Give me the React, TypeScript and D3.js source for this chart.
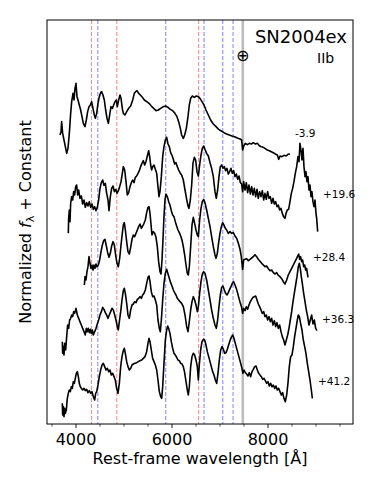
import React from "react";
import * as d3 from "d3";

// spectra of SN2004ex, [rest wavelength (A), normalized flux + constant]
const specM3_9: [number, number][] = [
  [3667, 8.95], [3688, 9.05], [3701, 9.35], [3722, 9.0], [3750, 8.8], [3778, 8.6], [3806, 8.4], [3833, 8.55],
  [3861, 9.0], [3889, 9.6], [3910, 9.95], [3938, 10.2], [3958, 10.0], [3979, 10.35], [4000, 10.5], [4021, 10.1],
  [4042, 10.0], [4069, 9.85], [4097, 9.7], [4125, 9.5], [4153, 9.3], [4188, 9.2], [4215, 9.4], [4243, 9.65],
  [4271, 9.8], [4299, 9.85], [4326, 9.95], [4354, 9.75], [4382, 9.55], [4403, 9.45], [4431, 9.6], [4458, 9.9],
  [4486, 10.1], [4514, 10.22], [4535, 10.25], [4562, 10.15], [4590, 10.0], [4618, 9.7], [4646, 9.45], [4674, 9.3],
  [4701, 9.55], [4729, 9.8], [4757, 9.75], [4785, 9.85], [4812, 9.95], [4840, 10.0], [4861, 9.8], [4889, 10.0],
  [4917, 10.15], [4938, 10.05], [4965, 9.75], [4986, 9.6], [5021, 9.55], [5056, 9.65], [5097, 9.75], [5139, 9.82],
  [5181, 10.0], [5215, 10.2], [5243, 10.25], [5271, 10.28], [5306, 10.2], [5340, 10.15], [5382, 10.08], [5424, 10.0],
  [5472, 9.95], [5521, 9.9], [5569, 9.82], [5618, 9.75], [5667, 9.68], [5715, 9.7], [5764, 9.75], [5819, 9.8],
  [5868, 9.82], [5917, 9.78], [5965, 9.72], [6014, 9.68], [6062, 9.6], [6104, 9.5], [6139, 9.35], [6174, 9.15],
  [6201, 8.95], [6236, 8.85], [6264, 8.95], [6299, 9.15], [6333, 9.5], [6361, 9.85], [6389, 10.05], [6424, 10.12],
  [6465, 10.08], [6507, 10.12], [6549, 10.1], [6583, 10.05], [6625, 9.95], [6667, 9.85], [6708, 9.7], [6757, 9.55],
  [6805, 9.4], [6861, 9.28], [6917, 9.2], [6972, 9.12], [7028, 9.07], [7083, 9.02], [7139, 8.98], [7194, 8.95],
  [7250, 8.92], [7305, 8.9], [7361, 8.86], [7417, 8.83], [7451, 8.8], [7472, 8.5], [7493, 8.62], [7528, 8.7],
  [7569, 8.66], [7611, 8.7], [7653, 8.68], [7694, 8.72], [7736, 8.68], [7778, 8.7], [7819, 8.63], [7861, 8.6],
  [7903, 8.58], [7944, 8.54], [7986, 8.5], [8028, 8.48], [8069, 8.45], [8111, 8.42], [8153, 8.38], [8194, 8.35],
  [8222, 8.22], [8250, 8.32], [8291, 8.3], [8333, 8.34], [8375, 8.32], [8416, 8.37], [8458, 8.38],
];

const specP19_6: [number, number][] = [
  [3840, 6.0], [3847, 6.45], [3861, 6.7], [3875, 6.35], [3889, 6.9], [3910, 7.1], [3931, 7.0], [3951, 7.25],
  [3972, 7.15], [3993, 7.4], [4014, 7.45], [4035, 7.15], [4056, 7.3], [4083, 7.05], [4111, 7.12], [4139, 6.88],
  [4167, 7.0], [4194, 6.78], [4222, 6.92], [4250, 6.82], [4278, 6.95], [4306, 6.78], [4333, 6.88], [4361, 6.72],
  [4389, 6.8], [4417, 6.68], [4444, 6.78], [4472, 7.0], [4500, 7.35], [4528, 7.52], [4556, 7.6], [4583, 7.44],
  [4611, 7.5], [4639, 7.2], [4667, 7.0], [4688, 6.68], [4715, 7.1], [4743, 7.35], [4771, 7.42], [4799, 7.25],
  [4826, 7.32], [4854, 7.2], [4882, 7.28], [4910, 7.4], [4938, 7.55], [4965, 7.8], [4986, 8.0], [5014, 7.9],
  [5042, 7.55], [5069, 7.15], [5097, 7.22], [5125, 7.4], [5153, 7.52], [5181, 7.6], [5208, 7.52], [5236, 7.68],
  [5264, 7.72], [5292, 7.8], [5319, 7.88], [5347, 8.0], [5375, 8.1], [5403, 8.18], [5431, 8.05], [5458, 8.15],
  [5486, 8.32], [5514, 8.48], [5535, 8.3], [5556, 8.05], [5576, 7.9], [5597, 8.0], [5625, 8.05], [5653, 7.92],
  [5681, 7.8], [5708, 7.4], [5729, 7.1], [5750, 7.25], [5778, 7.7], [5806, 8.3], [5833, 8.6], [5861, 8.8],
  [5889, 8.88], [5917, 8.68], [5944, 8.6], [5972, 8.42], [6000, 8.34], [6028, 8.22], [6055, 8.08], [6083, 8.12],
  [6111, 8.0], [6139, 7.9], [6167, 7.82], [6201, 7.75], [6236, 7.6], [6271, 7.3], [6306, 7.02], [6333, 6.82],
  [6354, 6.75], [6382, 7.0], [6410, 7.45], [6437, 8.1], [6465, 8.28], [6493, 8.2], [6521, 7.85], [6549, 7.72],
  [6576, 8.05], [6604, 8.35], [6632, 8.55], [6660, 8.62], [6687, 8.52], [6722, 8.4], [6757, 8.32], [6792, 8.12],
  [6826, 7.95], [6861, 7.7], [6896, 7.25], [6923, 7.05], [6951, 7.3], [6979, 7.7], [7007, 8.0], [7035, 8.05],
  [7062, 7.95], [7090, 8.0], [7118, 7.88], [7146, 7.95], [7173, 7.78], [7201, 7.85], [7229, 7.95], [7257, 7.8],
  [7285, 7.88], [7312, 7.7], [7340, 7.78], [7368, 7.62], [7396, 7.72], [7424, 7.52], [7451, 7.48], [7472, 7.25],
  [7493, 7.55], [7521, 7.3], [7549, 7.52], [7576, 7.22], [7604, 7.45], [7632, 7.18], [7660, 7.4], [7687, 7.15],
  [7715, 7.35], [7743, 7.1], [7771, 7.32], [7798, 7.05], [7826, 7.25], [7854, 7.1], [7882, 7.28], [7910, 7.0],
  [7937, 7.2], [7965, 7.02], [7993, 7.25], [8021, 7.05], [8048, 7.1], [8076, 6.9], [8104, 7.05], [8132, 6.88],
  [8160, 6.95], [8187, 6.8], [8215, 6.85], [8243, 6.7], [8271, 6.75], [8298, 6.6], [8326, 6.5], [8354, 6.45],
  [8375, 6.6], [8403, 6.7], [8430, 6.72], [8458, 6.95], [8486, 7.2], [8514, 7.35], [8541, 7.55], [8569, 7.8],
  [8597, 8.0], [8625, 8.3], [8646, 8.15], [8666, 8.7], [8687, 8.5], [8708, 8.2], [8729, 8.55], [8750, 8.0],
  [8771, 7.7], [8791, 7.85], [8812, 7.55], [8833, 7.7], [8854, 7.3], [8875, 7.45], [8896, 7.1], [8916, 7.25],
  [8937, 6.95], [8958, 6.8], [8979, 7.0], [9000, 6.6], [9014, 6.45], [9035, 6.05],
];

const specP28_4: [number, number][] = [
  [4174, 4.45], [4188, 4.7], [4208, 4.6], [4229, 4.85], [4250, 5.0], [4271, 5.3], [4292, 5.1], [4312, 4.95],
  [4333, 5.05], [4354, 4.9], [4375, 5.05], [4396, 4.95], [4417, 5.08], [4437, 5.0], [4465, 5.05], [4493, 5.2],
  [4521, 5.45], [4549, 5.65], [4576, 5.78], [4604, 5.82], [4632, 5.62], [4660, 5.42], [4688, 5.28], [4715, 5.4],
  [4743, 5.62], [4771, 5.75], [4799, 5.65], [4826, 5.35], [4854, 5.1], [4882, 5.0], [4910, 5.25], [4938, 5.65],
  [4965, 6.0], [4986, 6.25], [5007, 6.32], [5028, 6.1], [5056, 5.75], [5083, 5.45], [5111, 5.38], [5139, 5.58],
  [5167, 5.82], [5194, 5.95], [5222, 5.9], [5250, 6.0], [5278, 6.1], [5306, 6.2], [5333, 6.28], [5361, 6.15],
  [5389, 6.22], [5417, 6.3], [5444, 6.4], [5472, 6.62], [5500, 6.78], [5521, 6.8], [5542, 6.6], [5562, 6.28],
  [5583, 5.95], [5611, 6.05], [5639, 6.0], [5667, 5.88], [5694, 5.6], [5722, 5.15], [5750, 4.85], [5771, 4.78],
  [5792, 5.2], [5812, 5.8], [5833, 6.5], [5854, 7.0], [5875, 7.18], [5903, 7.1], [5931, 6.95], [5958, 6.85],
  [5986, 6.68], [6014, 6.55], [6042, 6.5], [6069, 6.35], [6097, 6.22], [6125, 6.1], [6153, 6.02], [6181, 5.92],
  [6208, 5.8], [6236, 5.6], [6264, 5.35], [6292, 5.05], [6319, 4.8], [6340, 4.75], [6361, 5.0], [6389, 5.6],
  [6417, 6.25], [6444, 6.48], [6472, 6.3], [6500, 6.1], [6528, 5.95], [6549, 5.9], [6576, 6.4], [6604, 6.75],
  [6632, 6.95], [6660, 7.02], [6687, 6.92], [6722, 6.7], [6757, 6.45], [6792, 6.2], [6826, 5.9], [6861, 5.6],
  [6896, 5.35], [6917, 5.25], [6944, 5.4], [6972, 5.72], [7000, 6.0], [7028, 6.2], [7055, 6.32], [7083, 6.25],
  [7111, 6.15], [7139, 6.1], [7173, 6.0], [7208, 6.05], [7243, 6.0], [7278, 6.02], [7312, 5.92], [7347, 5.85],
  [7382, 5.7], [7417, 5.52], [7444, 5.3], [7472, 4.92], [7493, 5.2], [7521, 5.22], [7556, 5.24], [7590, 5.18],
  [7625, 5.22], [7660, 5.26], [7694, 5.3], [7729, 5.36], [7764, 5.3], [7798, 5.22], [7833, 5.16], [7868, 5.1],
  [7903, 5.05], [7937, 5.0], [7972, 5.02], [8007, 4.94], [8042, 4.88], [8076, 4.9], [8111, 4.82], [8146, 4.78],
  [8180, 4.82], [8215, 4.74], [8250, 4.7], [8285, 4.64], [8319, 4.55], [8354, 4.48], [8389, 4.6], [8423, 4.75],
  [8458, 4.85], [8493, 4.95], [8528, 5.05], [8562, 5.15], [8597, 5.25], [8618, 5.32], [8639, 5.38], [8660, 5.22],
  [8680, 5.3], [8701, 5.15], [8722, 5.2], [8743, 5.0], [8764, 5.05], [8785, 4.9], [8805, 4.95], [8833, 4.68],
];

const specP36_3: [number, number][] = [
  [3715, 2.75], [3722, 2.4], [3736, 2.6], [3750, 2.35], [3764, 2.7], [3785, 2.5], [3806, 2.9], [3826, 3.25],
  [3847, 3.15], [3868, 3.4], [3889, 3.45], [3910, 3.55], [3931, 3.5], [3951, 3.65], [3972, 3.6], [4000, 3.75],
  [4028, 3.55], [4056, 3.45], [4083, 3.35], [4111, 3.25], [4139, 3.15], [4167, 3.05], [4194, 2.95], [4215, 3.15],
  [4236, 3.05], [4257, 3.15], [4278, 3.02], [4299, 3.12], [4319, 3.0], [4340, 3.1], [4361, 2.95], [4389, 3.05],
  [4417, 3.15], [4444, 3.28], [4472, 3.4], [4500, 3.55], [4528, 3.65], [4556, 3.78], [4583, 3.72], [4611, 3.62],
  [4639, 3.55], [4667, 3.45], [4694, 3.55], [4722, 3.65], [4750, 3.75], [4778, 3.7], [4806, 3.55], [4833, 3.4],
  [4861, 3.2], [4882, 3.1], [4903, 3.35], [4931, 3.65], [4958, 4.0], [4986, 4.28], [5007, 4.35], [5028, 4.2],
  [5056, 3.9], [5083, 3.55], [5111, 3.45], [5139, 3.7], [5167, 3.85], [5194, 3.88], [5222, 3.95], [5250, 3.92],
  [5278, 4.02], [5306, 4.05], [5333, 4.1], [5361, 4.05], [5389, 4.15], [5417, 4.2], [5444, 4.3], [5472, 4.5],
  [5500, 4.68], [5521, 4.72], [5542, 4.55], [5569, 4.25], [5597, 4.1], [5625, 4.12], [5653, 4.0], [5681, 3.85],
  [5708, 3.4], [5736, 3.15], [5757, 3.05], [5778, 3.4], [5806, 4.0], [5833, 4.5], [5861, 4.8], [5889, 4.92],
  [5917, 4.78], [5944, 4.65], [5972, 4.52], [6000, 4.42], [6028, 4.3], [6055, 4.22], [6083, 4.15], [6111, 4.05],
  [6139, 4.0], [6167, 3.95], [6201, 3.9], [6236, 3.8], [6271, 3.55], [6306, 3.2], [6333, 3.05], [6361, 3.35],
  [6389, 3.7], [6417, 3.95], [6444, 4.1], [6472, 4.0], [6500, 3.85], [6528, 3.65], [6549, 3.8], [6576, 4.2],
  [6604, 4.55], [6632, 4.78], [6660, 4.85], [6687, 4.8], [6722, 4.6], [6757, 4.3], [6792, 4.0], [6826, 3.7],
  [6861, 3.45], [6896, 3.25], [6923, 3.15], [6951, 3.4], [6979, 3.8], [7007, 4.15], [7035, 4.38], [7062, 4.42],
  [7090, 4.3], [7118, 4.2], [7146, 4.15], [7173, 4.22], [7201, 4.32], [7229, 4.4], [7257, 4.5], [7285, 4.55],
  [7312, 4.45], [7340, 4.35], [7368, 4.2], [7396, 4.05], [7424, 3.9], [7451, 3.78], [7472, 3.6], [7493, 3.75],
  [7521, 3.68], [7549, 3.8], [7576, 3.72], [7604, 3.85], [7632, 3.95], [7660, 4.02], [7687, 4.08], [7715, 4.1],
  [7743, 4.12], [7771, 4.0], [7798, 3.88], [7826, 3.8], [7854, 3.7], [7882, 3.6], [7910, 3.65], [7937, 3.5],
  [7965, 3.55], [7993, 3.4], [8021, 3.5], [8048, 3.35], [8076, 3.45], [8104, 3.25], [8132, 3.38], [8160, 3.2],
  [8187, 3.32], [8215, 3.15], [8243, 3.25], [8271, 3.05], [8298, 2.9], [8326, 2.8], [8354, 2.65], [8382, 2.8],
  [8410, 2.95], [8437, 3.15], [8465, 3.4], [8493, 3.65], [8521, 3.95], [8548, 4.2], [8576, 4.45], [8604, 4.7],
  [8632, 5.0], [8653, 5.1], [8673, 4.95], [8694, 4.7], [8715, 4.5], [8743, 4.2], [8771, 3.95], [8798, 3.7],
  [8826, 3.5], [8854, 3.25], [8882, 3.4], [8910, 3.55], [8937, 3.28], [8965, 3.4], [8993, 3.15], [9021, 3.08],
];

const specP41_2: [number, number][] = [
  [3715, 0.9], [3722, 0.55], [3736, 0.8], [3750, 0.5], [3764, 0.75], [3778, 0.6], [3799, 0.7], [3819, 1.05],
  [3840, 1.2], [3861, 1.3], [3882, 1.25], [3903, 1.4], [3924, 1.35], [3944, 1.55], [3965, 1.5], [3986, 1.65],
  [4007, 1.8], [4028, 1.85], [4049, 1.7], [4069, 1.5], [4090, 1.4], [4111, 1.35], [4139, 1.3], [4167, 1.35],
  [4194, 1.28], [4222, 1.32], [4250, 1.22], [4278, 1.28], [4306, 1.2], [4333, 1.25], [4361, 1.1], [4389, 1.0],
  [4410, 1.2], [4431, 1.25], [4458, 1.45], [4486, 1.7], [4514, 1.9], [4542, 2.05], [4569, 2.1], [4597, 2.0],
  [4625, 1.9], [4653, 1.95], [4681, 1.85], [4708, 1.9], [4736, 1.75], [4764, 1.8], [4792, 1.7], [4819, 1.6],
  [4847, 1.35], [4875, 1.2], [4903, 1.5], [4931, 2.0], [4958, 2.3], [4986, 2.48], [5007, 2.55], [5028, 2.4],
  [5056, 2.15], [5083, 2.0], [5111, 1.9], [5139, 1.95], [5167, 2.05], [5194, 2.08], [5229, 2.1], [5264, 2.12],
  [5299, 2.15], [5333, 2.18], [5368, 2.2], [5403, 2.25], [5437, 2.3], [5472, 2.45], [5500, 2.7], [5521, 2.85],
  [5542, 2.75], [5569, 2.5], [5597, 2.25], [5625, 2.15], [5653, 2.05], [5681, 1.9], [5708, 1.6], [5736, 1.25],
  [5764, 1.1], [5785, 1.05], [5806, 1.4], [5833, 2.1], [5861, 2.8], [5889, 3.1], [5910, 3.22], [5931, 3.15],
  [5958, 3.0], [5986, 2.75], [6014, 2.55], [6042, 2.4], [6069, 2.35], [6097, 2.28], [6125, 2.2], [6153, 2.18],
  [6181, 2.1], [6208, 2.08], [6236, 2.0], [6264, 1.82], [6292, 1.55], [6319, 1.3], [6340, 1.15], [6361, 1.4],
  [6389, 2.0], [6417, 2.3], [6444, 2.4], [6472, 2.35], [6500, 2.2], [6528, 2.0], [6549, 1.6], [6569, 2.05],
  [6597, 2.5], [6625, 2.75], [6653, 2.82], [6680, 2.8], [6708, 2.65], [6736, 2.45], [6764, 2.3], [6792, 2.15],
  [6819, 2.0], [6847, 1.85], [6875, 1.75], [6903, 1.6], [6931, 1.5], [6958, 1.8], [6986, 2.2], [7014, 2.5],
  [7042, 2.6], [7069, 2.52], [7097, 2.4], [7125, 2.42], [7153, 2.52], [7180, 2.65], [7208, 2.78], [7236, 2.88],
  [7264, 2.95], [7292, 2.85], [7319, 2.7], [7347, 2.55], [7375, 2.4], [7403, 2.25], [7431, 2.1], [7458, 1.95],
  [7479, 1.8], [7500, 1.9], [7528, 1.82], [7556, 1.78], [7583, 1.72], [7611, 1.82], [7639, 1.7], [7667, 1.85],
  [7694, 1.92], [7722, 2.0], [7750, 2.02], [7778, 1.9], [7806, 1.8], [7833, 1.75], [7861, 1.7], [7889, 1.62],
  [7917, 1.65], [7944, 1.58], [7972, 1.5], [8000, 1.55], [8028, 1.42], [8055, 1.5], [8083, 1.4], [8111, 1.45],
  [8139, 1.35], [8166, 1.42], [8194, 1.3], [8222, 1.35], [8250, 1.25], [8278, 1.15], [8305, 1.22], [8333, 1.05],
  [8361, 0.95], [8389, 1.15], [8416, 1.5], [8444, 2.0], [8472, 2.3], [8500, 2.35], [8528, 2.6], [8555, 2.9],
  [8583, 3.15], [8611, 3.4], [8632, 3.55], [8653, 3.5], [8680, 3.3], [8708, 3.1], [8736, 2.8], [8764, 2.6],
  [8791, 2.4], [8819, 2.1], [8847, 1.85], [8875, 1.6], [8903, 1.3], [8924, 1.05],
];

const spectra = [specM3_9, specP19_6, specP28_4, specP36_3, specP41_2];
const epochs = ["-3.9", "+19.6", "+28.4", "+36.3", "+41.2"];
// where each epoch label sits (wavelength, flux)
const epochLabelX = [8562, 9146, 8937, 9125, 9042];
const epochLabelY = [8.89, 7.05, 5.17, 3.31, 1.45];

// line markers (rest wavelength, A)
const hydrogenLines = [4325, 4850, 6555];
const heliumLines = [4455, 5870, 6668, 7058, 7272];
const telluricBand = [7448, 7502];

const majorTicks = [4000, 6000, 8000];
const minorTicks = [3500, 4500, 5000, 5500, 6500, 7000, 7500, 8500, 9000, 9500];

const W = 374;
const H = 486;
const L = 47, R = 353, T = 20, B = 424;
const FONT = "DejaVu Sans, sans-serif";

export default function App() {
  const x = d3.scaleLinear().domain([3396, 9771]).range([L, R]);
  const y = d3.scaleLinear().domain([0.28, 12.4]).range([B, T]);

  const line = d3
    .line<[number, number]>()
    .x(d => x(d[0]))
    .y(d => y(d[1]));

  return (
    <svg
      width={W}
      height={H}
      style={{ position: "absolute", left: 0, top: 0, background: "white" }}
      fontFamily={FONT}
    >
      <rect x={0} y={0} width={W} height={H} fill="white" />

      {/* telluric band */}
      <rect
        x={x(telluricBand[0])}
        y={T}
        width={x(telluricBand[1]) - x(telluricBand[0])}
        height={B - T}
        fill="#bdbdbd"
      />

      {hydrogenLines.map(w => (
        <line
          key={`h-${w}`}
          x1={x(w)}
          x2={x(w)}
          y1={T}
          y2={B}
          stroke="#ff8080"
          strokeWidth={1}
          strokeDasharray="4,2"
        />
      ))}
      {heliumLines.map(w => (
        <line
          key={`he-${w}`}
          x1={x(w)}
          x2={x(w)}
          y1={T}
          y2={B}
          stroke="#8080ff"
          strokeWidth={1}
          strokeDasharray="4,2"
        />
      ))}

      {spectra.map((s, i) => (
        <path
          key={epochs[i]}
          d={line(s) || ""}
          fill="none"
          stroke="black"
          strokeWidth={1.6}
          strokeLinejoin="round"
        />
      ))}

      {epochs.map((e, i) => (
        <text key={`lab-${e}`} x={x(epochLabelX[i])} y={y(epochLabelY[i])} fontSize={10.5}>
          {e}
        </text>
      ))}

      <text x={x(7475)} y={61} fontSize={16} textAnchor="middle">
        ⊕
      </text>
      <text x={347} y={43} fontSize={18} textAnchor="end">
        SN2004ex
      </text>
      <text x={317} y={63} fontSize={14}>
        IIb
      </text>

      {/* frame */}
      <rect x={L} y={T} width={R - L} height={B - T} fill="none" stroke="black" strokeWidth={1} />

      {/* x axis ticks */}
      {majorTicks.map(t => (
        <g key={`mt-${t}`}>
          <line x1={x(t)} x2={x(t)} y1={B} y2={B + 4} stroke="black" strokeWidth={0.9} />
          <text x={x(t)} y={445} fontSize={16} textAnchor="middle">
            {t}
          </text>
        </g>
      ))}
      {minorTicks.map(t => (
        <line key={`mn-${t}`} x1={x(t)} x2={x(t)} y1={B} y2={B + 2.5} stroke="black" strokeWidth={0.7} />
      ))}

      <text x={(L + R) / 2} y={464} fontSize={16} textAnchor="middle">
        Rest-frame wavelength [Å]
      </text>

      <text transform={`translate(31, ${(T + B) / 2}) rotate(-90)`} fontSize={16} textAnchor="middle">
        Normalized{" "}
        <tspan fontStyle="italic">f</tspan>
        <tspan fontSize={11} dy={3}>λ</tspan>
        <tspan dy={-3}> + Constant</tspan>
      </text>
    </svg>
  );
}
